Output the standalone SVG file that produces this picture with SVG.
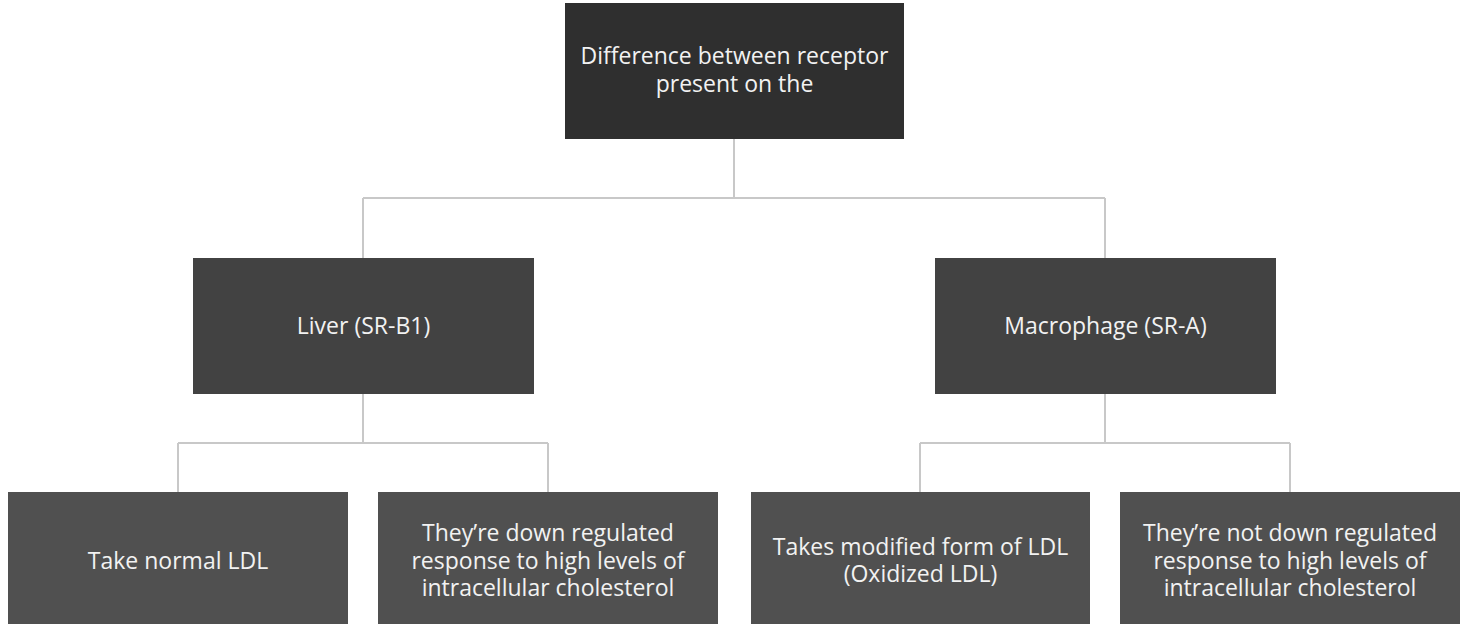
<svg xmlns="http://www.w3.org/2000/svg" width="1460" height="624" viewBox="0 0 1460 624">
  <style>
    .n0 { fill: #2f2f2f; }
    .n1 { fill: #424242; }
    .n2 { fill: #505050; }
    .t { font-family: "Open Sans", "Liberation Sans", sans-serif; font-size: 23px; fill: #f2f2f2; text-anchor: middle; }
    .c { fill: none; stroke: #c8c8c8; stroke-width: 2; }
  </style>
  <rect width="1460" height="624" fill="#ffffff"/>
  <g id="connectors">
    <path class="c" d="M734 139 V198 M363 198 H1105 M363 198 V258 M1105 198 V258"/>
    <path class="c" d="M363 394 V443 M178 443 H548 M178 443 V492 M548 443 V492"/>
    <path class="c" d="M1105 394 V443 M920 443 H1290 M920 443 V492 M1290 443 V492"/>
  </g>
  <g id="root">
    <rect class="n0" x="565" y="3" width="339" height="136"/>
    <text class="t" x="734.5"><tspan x="734.5" y="64">Difference between receptor</tspan><tspan x="734.5" y="91.6">present on the</tspan></text>
  </g>
  <g id="liver">
    <rect class="n1" x="193" y="258" width="341" height="136"/>
    <text class="t" x="363.5" y="334">Liver (SR-B1)</text>
  </g>
  <g id="macrophage">
    <rect class="n1" x="935" y="258" width="341" height="136"/>
    <text class="t" x="1105.5" y="334">Macrophage (SR-A)</text>
  </g>
  <g id="take-normal">
    <rect class="n2" x="8" y="492" width="340" height="136"/>
    <text class="t" x="178" y="568.5">Take normal LDL</text>
  </g>
  <g id="liver-downregulated">
    <rect class="n2" x="378" y="492" width="340" height="136"/>
    <text class="t"><tspan x="548" y="541">They’re down regulated</tspan><tspan x="548" y="568.5">response to high levels of</tspan><tspan x="548" y="596">intracellular cholesterol</tspan></text>
  </g>
  <g id="takes-modified">
    <rect class="n2" x="751" y="492" width="339" height="136"/>
    <text class="t"><tspan x="920.5" y="554.7">Takes modified form of LDL</tspan><tspan x="920.5" y="582.3">(Oxidized LDL)</tspan></text>
  </g>
  <g id="macrophage-not-downregulated">
    <rect class="n2" x="1120" y="492" width="340" height="136"/>
    <text class="t"><tspan x="1290" y="541">They’re not down regulated</tspan><tspan x="1290" y="568.5">response to high levels of</tspan><tspan x="1290" y="596">intracellular cholesterol</tspan></text>
  </g>
</svg>
